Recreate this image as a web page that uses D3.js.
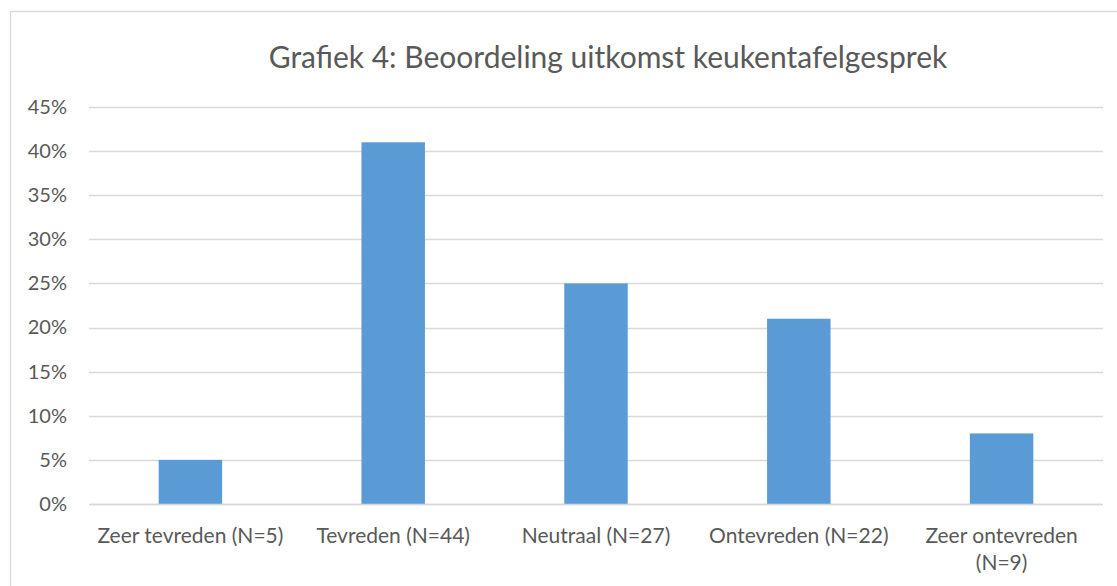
<!DOCTYPE html>
<html>
<head>
<meta charset="utf-8">
<script src="https://cdn.jsdelivr.net/npm/d3@7"></script>
<style>
    body { margin: 0; background: #fff; }
    text { font-family: Lato, "Open Sans", sans-serif; fill: #595959; }
</style>
</head>
<body>
<div id="chart"></div>
<script>
// chart data
const categories = ["Zeer tevreden (N=5)", "Tevreden (N=44)", "Neutraal (N=27)", "Ontevreden (N=22)", "Zeer ontevreden (N=9)"];
const values = [0.05, 0.41, 0.25, 0.21, 0.08];
const yTicks = [0, 0.05, 0.10, 0.15, 0.20, 0.25, 0.30, 0.35, 0.40, 0.45];
const title = "Grafiek 4: Beoordeling uitkomst keukentafelgesprek";

const width = 1117, height = 586;
const margin = {top: 107, right: 14, bottom: 82, left: 89};

const svg = d3.select("#chart").append("svg")
    .attr("width", width)
    .attr("height", height);

// outer chart border
svg.append("rect")
    .attr("x", 10.5)
    .attr("y", 11.5)
    .attr("width", 1200)
    .attr("height", 1000)
    .attr("fill", "none")
    .attr("stroke", "#d9d9d9")
    .attr("stroke-width", 1.3);

// title
svg.append("text")
    .attr("x", 608)
    .attr("y", 68)
    .attr("text-anchor", "middle")
    .attr("font-size", "30px")
    .text(title);

// scales
let x = d3.scaleBand()
    .domain(categories)
    .range([margin.left, width - margin.right])
    .paddingInner(0.687)
    .paddingOuter(0.3435);

let y = d3.scaleLinear()
    .domain([0, 0.45])
    .range([height - margin.bottom, margin.top]);

// gridlines
svg.append("g")
    .attr("class", "grid")
    .selectAll("line")
    .data(yTicks)
    .join("line")
    .attr("x1", margin.left)
    .attr("x2", width - margin.right)
    .attr("y1", d => Math.round(y(d)) + 0.5)
    .attr("y2", d => Math.round(y(d)) + 0.5)
    .attr("stroke", "#d9d9d9")
    .attr("stroke-width", 1.3);

// y axis labels
let yAxis = d3.axisLeft(y)
    .tickValues(yTicks)
    .tickFormat(d3.format(".0%"))
    .tickSize(0)
    .tickPadding(22);

svg.append("g")
    .attr("class", "y-axis")
    .attr("transform", `translate(${margin.left}, 0)`)
    .call(yAxis)
    .call(g => g.select(".domain").remove())
    .selectAll("text")
    .attr("font-size", "20px")
    .style("font-family", "Lato, sans-serif")
    .attr("fill", "#595959");

// bars
svg.append("g")
    .selectAll("rect")
    .data(values)
    .join("rect")
    .attr("x", (d, i) => x(categories[i]))
    .attr("y", d => y(d))
    .attr("width", x.bandwidth())
    .attr("height", d => y(0) - y(d))
    .attr("fill", "#5b9bd5");

// x axis baseline over the bars
svg.append("line")
    .attr("x1", margin.left)
    .attr("x2", width - margin.right)
    .attr("y1", Math.round(y(0)) + 0.5)
    .attr("y2", Math.round(y(0)) + 0.5)
    .attr("stroke", "#d9d9d9")
    .attr("stroke-width", 1.3);

// x axis labels, wrapped like excel does
let xAxis = d3.axisBottom(x).tickSize(0).tickPadding(0);

let xg = svg.append("g")
    .attr("class", "x-axis")
    .attr("transform", `translate(0, ${y(0)})`)
    .call(xAxis);
xg.select(".domain").remove();

xg.selectAll(".tick text")
    .attr("font-size", "21px")
    .style("font-family", "Lato, sans-serif")
    .attr("fill", "#595959")
    .attr("dy", null)
    .attr("y", 0)
    .each(function(d) {
        let t = d3.select(this);
        t.text(null);
        let lines = [d];
        if (d === "Zeer ontevreden (N=9)") lines = ["Zeer ontevreden", "(N=9)"];
        lines.forEach((l, i) => {
            t.append("tspan")
                .attr("x", 0)
                .attr("y", 39 + i * 27)
                .text(l);
        });
    });
</script>
</body>
</html>
